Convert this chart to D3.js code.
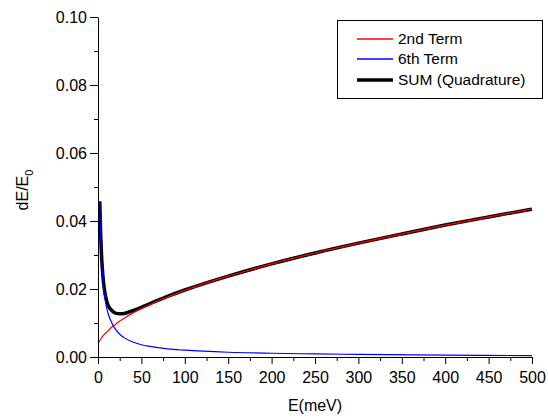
<!DOCTYPE html>
<html>
<head>
<meta charset="utf-8">
<script src="https://cdn.jsdelivr.net/npm/d3@7"></script>
<style>
  html, body { margin: 0; padding: 0; background: #fff; }
  svg { display: block; }
  text { font-family: "Liberation Sans", Arial, sans-serif; }
</style>
</head>
<body>
<svg id="chart" width="548" height="419"></svg>
<script>
// ---- data ----
const redE    = [0, 5, 10, 15, 20, 25, 30, 40, 50, 60, 70, 80, 100, 125, 150, 175, 200, 250, 300, 350, 400, 450, 500];
const redVal  = [0.0040, 0.0060, 0.0073, 0.0086, 0.0096, 0.0106, 0.0114, 0.0129, 0.0142, 0.0154, 0.0166, 0.0176, 0.0196, 0.0218, 0.0238, 0.0256, 0.0274, 0.0306, 0.0335, 0.0362, 0.0388, 0.0412, 0.0435];

const blueE   = [2, 3, 4, 5, 6, 8, 10, 12, 15, 18, 20, 25, 30, 40, 50, 60, 80, 100, 150, 200, 250, 300, 400, 500];
const blueVal = [0.0455, 0.0360, 0.0295, 0.0250, 0.0215, 0.0172, 0.0145, 0.0125, 0.0105, 0.0090, 0.0082, 0.0067, 0.0057, 0.0044, 0.0036, 0.0031, 0.0024, 0.0020, 0.0014, 0.0011, 0.0009, 0.00075, 0.00055, 0.0004];

const sumE    = [2, 3, 4, 5, 6, 8, 10, 12, 15, 18, 20, 25, 30, 40, 50, 60, 80, 100, 150, 200, 250, 300, 350, 400, 450, 500];
const sumVal  = [0.0458, 0.0366, 0.0302, 0.0260, 0.0228, 0.0188, 0.0165, 0.0150, 0.0139, 0.0132, 0.0129, 0.0127, 0.0128, 0.0136, 0.0146, 0.0157, 0.0178, 0.0197, 0.0238, 0.0274, 0.0306, 0.0335, 0.0362, 0.0388, 0.0412, 0.0435];

const xTicks = [0, 50, 100, 150, 200, 250, 300, 350, 400, 450, 500];
const xMinor = [25, 75, 125, 175, 225, 275, 325, 375, 425, 475];
const yTicks = [0, 0.02, 0.04, 0.06, 0.08, 0.10];
const yMinor = [0.01, 0.03, 0.05, 0.07, 0.09];

const seriesNames = ["2nd Term", "6th Term", "SUM (Quadrature)"];

// ---- drawing ----
const svg = d3.select("#chart");
const x = d3.scaleLinear().domain([0, 500]).range([98, 532]);
const y = d3.scaleLinear().domain([0, 0.10]).range([357, 17]);

const line = d3.line().x(d => x(d[0])).y(d => y(d[1])).curve(d3.curveMonotoneX);
const zip = (a, b) => a.map((v, i) => [v, b[i]]);

const plot = svg.append("g");
plot.append("path").datum(zip(sumE, sumVal)).attr("d", line)
  .attr("fill", "none").attr("stroke", "#000").attr("stroke-width", 3.5).attr("stroke-linejoin", "round");
plot.append("path").datum(zip(redE, redVal)).attr("d", line)
  .attr("fill", "none").attr("stroke", "#ff0000").attr("stroke-width", 1.2);
plot.append("path").datum(zip(blueE, blueVal)).attr("d", line)
  .attr("fill", "none").attr("stroke", "#0000ff").attr("stroke-width", 1.2);

// axes
svg.append("g").attr("transform", "translate(0,357)")
  .call(d3.axisBottom(x).tickValues(xTicks).tickFormat(d3.format("d")).tickSize(7).tickSizeOuter(0).tickPadding(8));
svg.append("g").attr("transform", "translate(0,357)")
  .call(d3.axisBottom(x).tickValues(xMinor).tickFormat("").tickSize(4).tickSizeOuter(0))
  .select(".domain").remove();

svg.append("g").attr("transform", "translate(98,0)")
  .call(d3.axisLeft(y).tickValues(yTicks).tickFormat(d3.format(".2f")).tickSize(8).tickSizeOuter(0).tickPadding(3));
svg.append("g").attr("transform", "translate(98,0)")
  .call(d3.axisLeft(y).tickValues(yMinor).tickFormat("").tickSize(4).tickSizeOuter(0))
  .select(".domain").remove();

svg.selectAll(".tick text").attr("font-size", 16).attr("font-family", "'Liberation Sans', Arial, sans-serif").attr("fill", "#000");
svg.selectAll(".domain, .tick line").attr("stroke", "#000").attr("stroke-width", 1);

// axis titles
svg.append("text").attr("x", 315).attr("y", 411).attr("text-anchor", "middle")
  .attr("font-size", 16).text("E(meV)");

const yt = svg.append("text").attr("transform", "translate(28,190) rotate(-90)")
  .attr("text-anchor", "middle").attr("font-size", 16);
yt.append("tspan").text("dE/E");
yt.append("tspan").attr("font-size", 11).attr("dy", 5).text("0");

// legend
const lg = svg.append("g");
lg.append("rect").attr("x", 337.5).attr("y", 20.5).attr("width", 205).attr("height", 78)
  .attr("fill", "#fff").attr("stroke", "#000").attr("stroke-width", 1);
const legColors = ["#ff0000", "#0000ff", "#000"];
const legWidths = [1.4, 1.4, 3.5];
const legY = [39, 59, 80];
seriesNames.forEach((name, i) => {
  lg.append("line").attr("x1", 357).attr("x2", 393).attr("y1", legY[i]).attr("y2", legY[i])
    .attr("stroke", legColors[i]).attr("stroke-width", legWidths[i]);
  lg.append("text").attr("x", 398).attr("y", legY[i]).attr("dy", "0.35em")
    .attr("font-size", 15.5).text(name);
});
</script>
</body>
</html>
